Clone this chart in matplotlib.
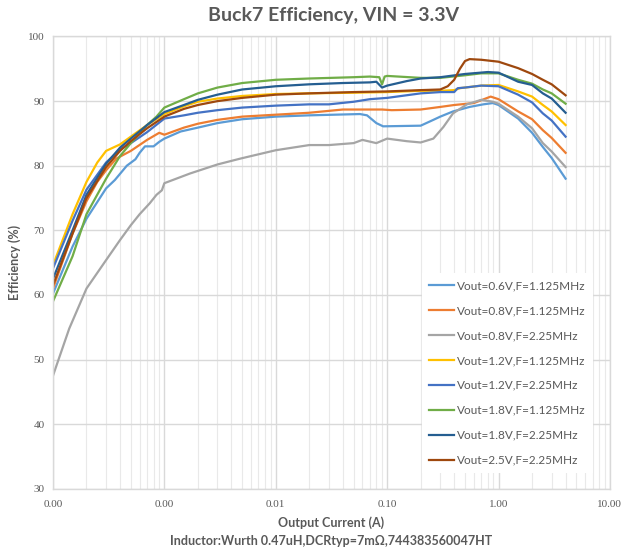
import numpy as np
import matplotlib
matplotlib.use("Agg")
import matplotlib.pyplot as plt
from matplotlib.ticker import FuncFormatter, LogLocator

# Efficiency vs load current, one (current, efficiency) pair of lists per setting
labels = [
    "Vout=0.6V,F=1.125MHz",
    "Vout=0.8V,F=1.125MHz",
    "Vout=0.8V,F=2.25MHz",
    "Vout=1.2V,F=1.125MHz",
    "Vout=1.2V,F=2.25MHz",
    "Vout=1.8V,F=1.125MHz",
    "Vout=1.8V,F=2.25MHz",
    "Vout=2.5V,F=2.25MHz",
]
colors = ["#5B9BD5", "#ED7D31", "#A5A5A5", "#FFC000",
          "#4472C4", "#70AD47", "#255E91", "#9E480E"]

i_06_1125 = [0.0001, 0.00015, 0.0002, 0.0003, 0.00036, 0.00046, 0.00055, 0.0006, 0.00067, 0.0008,
             0.0009, 0.001, 0.0014, 0.002, 0.003, 0.005, 0.01, 0.02, 0.057, 0.066, 0.08, 0.092,
             0.2, 0.26, 0.3, 0.39, 0.55, 0.73, 0.89, 1.0, 1.5, 2.0, 2.5, 3.0, 4.0]
eff_06_1125 = [60.2, 67.5, 71.8, 76.5, 77.8, 80.0, 81.0, 82.0, 83.0, 83.0,
               83.7, 84.2, 85.3, 85.9, 86.6, 87.2, 87.6, 87.8, 88.0, 87.8, 86.6, 86.1,
               86.2, 87.1, 87.6, 88.4, 89.1, 89.5, 89.7, 89.4, 87.3, 85.1, 82.9, 81.2, 78.0]

i_08_1125 = [0.0001, 0.00015, 0.0002, 0.00025, 0.0003, 0.00037, 0.0005, 0.0007, 0.0009, 0.001,
             0.0015, 0.002, 0.003, 0.005, 0.01, 0.02, 0.04, 0.09, 0.11, 0.2, 0.3, 0.4, 0.6,
             0.85, 1.0, 1.5, 2.0, 2.5, 3.0, 4.0]
eff_08_1125 = [61.0, 69.5, 74.5, 77.5, 79.3, 81.1, 82.3, 84.0, 85.1, 84.8,
               85.9, 86.5, 87.1, 87.6, 87.9, 88.2, 88.7, 88.7, 88.6, 88.7, 89.1, 89.4, 89.7,
               90.7, 90.3, 88.4, 87.2, 85.5, 84.3, 82.0]

i_08_225 = [0.0001, 0.00014, 0.0002, 0.0003, 0.0004, 0.0005, 0.0006, 0.00074, 0.00085, 0.00095,
            0.001, 0.0017, 0.003, 0.0048, 0.01, 0.02, 0.03, 0.05, 0.06, 0.08, 0.1, 0.15, 0.2,
            0.26, 0.32, 0.39, 0.52, 0.7, 0.89, 1.0, 1.5, 2.0, 2.5, 3.0, 4.0]
eff_08_225 = [47.5, 54.8, 61.0, 65.4, 68.5, 70.8, 72.5, 74.2, 75.5, 76.2,
              77.3, 78.8, 80.2, 81.1, 82.4, 83.2, 83.2, 83.5, 84.0, 83.5, 84.2, 83.8, 83.6,
              84.2, 86.0, 88.1, 89.5, 90.2, 89.9, 89.6, 87.6, 85.8, 83.5, 82.2, 79.8]

i_12_1125 = [0.0001, 0.00015, 0.0002, 0.00025, 0.0003, 0.0004, 0.0005, 0.0007, 0.001, 0.0015,
             0.002, 0.003, 0.005, 0.01, 0.02, 0.05, 0.1, 0.2, 0.3, 0.4, 0.45, 0.5, 0.7, 1.0,
             1.5, 2.0, 2.5, 3.0, 4.0]
eff_12_1125 = [64.6, 72.5, 77.5, 80.5, 82.3, 83.3, 84.5, 86.3, 88.0, 89.2,
               89.9, 90.4, 90.8, 91.1, 91.2, 91.3, 91.4, 91.6, 91.6, 91.7, 92.0, 92.1, 92.4, 92.5,
               91.5, 90.7, 89.4, 88.4, 86.3]

i_12_225 = [0.0001, 0.00015, 0.0002, 0.0003, 0.0004, 0.0005, 0.0007, 0.001, 0.0015, 0.002,
            0.003, 0.005, 0.01, 0.02, 0.03, 0.05, 0.07, 0.1, 0.2, 0.3, 0.4, 0.43, 0.5, 0.7,
            1.0, 1.5, 2.0, 2.5, 3.0, 4.0]
eff_12_225 = [64.1, 71.5, 76.3, 80.5, 82.5, 83.5, 85.2, 87.3, 87.8, 88.2,
              88.6, 89.0, 89.3, 89.5, 89.5, 89.9, 90.3, 90.5, 91.2, 91.4, 91.4, 92.0, 92.1, 92.4,
              92.3, 91.0, 89.8, 88.1, 87.0, 84.5]

i_18_1125 = [0.0001, 0.00015, 0.0002, 0.0003, 0.0004, 0.0005, 0.0007, 0.00085, 0.001, 0.0015,
             0.002, 0.003, 0.005, 0.01, 0.02, 0.05, 0.07, 0.085, 0.09, 0.095, 0.1, 0.2, 0.3,
             0.5, 0.7, 1.0, 1.5, 2.0, 2.5, 3.0, 4.0]
eff_18_1125 = [59.0, 66.0, 72.5, 78.0, 81.5, 83.5, 86.3, 87.6, 89.0, 90.3,
               91.2, 92.1, 92.8, 93.3, 93.5, 93.7, 93.8, 93.7, 92.6, 93.8, 93.9, 93.6, 93.6,
               94.0, 94.3, 94.3, 93.3, 92.7, 91.8, 91.2, 89.6]

i_18_225 = [0.0001, 0.00015, 0.0002, 0.0003, 0.0004, 0.0005, 0.0007, 0.001, 0.0015, 0.002,
            0.003, 0.005, 0.01, 0.02, 0.04, 0.07, 0.08, 0.09, 0.1, 0.15, 0.2, 0.3, 0.5, 0.8,
            1.0, 1.5, 2.0, 2.5, 3.0, 4.0]
eff_18_225 = [62.5, 70.0, 75.5, 80.3, 82.8, 84.2, 86.3, 88.3, 89.4, 90.2,
              91.0, 91.8, 92.3, 92.6, 92.8, 92.9, 93.0, 92.1, 92.4, 93.1, 93.5, 93.7, 94.2, 94.5,
              94.4, 93.0, 92.5, 91.2, 90.4, 88.2]

i_25_225 = [0.0001, 0.00015, 0.0002, 0.0003, 0.0004, 0.0005, 0.0007, 0.001, 0.0015, 0.002,
            0.003, 0.005, 0.01, 0.02, 0.05, 0.1, 0.2, 0.3, 0.35, 0.4, 0.45, 0.5, 0.55, 0.7,
            1.0, 1.5, 2.0, 2.5, 3.0, 4.0]
eff_25_225 = [61.5, 69.5, 75.0, 79.8, 82.3, 83.8, 85.8, 87.6, 88.8, 89.4,
              90.0, 90.5, 91.0, 91.2, 91.4, 91.5, 91.7, 91.8, 92.3, 93.3, 95.0, 96.2, 96.5, 96.4,
              96.1, 95.1, 94.2, 93.3, 92.6, 90.9]

currents = [i_06_1125, i_08_1125, i_08_225, i_12_1125, i_12_225, i_18_1125, i_18_225, i_25_225]
effs = [eff_06_1125, eff_08_1125, eff_08_225, eff_12_1125, eff_12_225, eff_18_1125, eff_18_225, eff_25_225]

text_gray = "#595959"
grid_gray = "#D9D9D9"

fig = plt.figure(figsize=(6.23, 5.53), dpi=100)
ax = fig.add_axes([0.085, 0.116, 0.894, 0.818])

for x, y, lab, col in zip(currents, effs, labels, colors):
    ax.plot(x, y, color=col, linewidth=1.6, label=lab, solid_joinstyle="round")

ax.set_xscale("log")
ax.set_xlim(0.0001, 10)
ax.set_ylim(30, 100)
ax.set_yticks(np.arange(30, 101, 10))
ax.xaxis.set_major_locator(LogLocator(base=10, numticks=10))
ax.xaxis.set_minor_locator(LogLocator(base=10, subs=np.arange(2, 10), numticks=20))
ax.xaxis.set_major_formatter(FuncFormatter(lambda v, p: f"{v:.2f}"))
ax.xaxis.set_minor_formatter(FuncFormatter(lambda v, p: ""))

ax.grid(True, which="major", color=grid_gray, linewidth=1.0)
ax.grid(True, which="minor", axis="x", color="#E9E9E9", linewidth=0.8)
ax.set_axisbelow(True)
for s in ax.spines.values():
    s.set_color(grid_gray)
    s.set_linewidth(1.0)

ax.tick_params(which="both", length=0)
ax.tick_params(axis="x", pad=8)
ax.tick_params(axis="y", pad=6)
for t in ax.get_xticklabels() + ax.get_yticklabels():
    t.set_fontfamily("Liberation Serif")
    t.set_fontsize(8)
    t.set_color(text_gray)

leg = ax.legend(loc="upper left", bbox_to_anchor=(0.662, 0.477), frameon=True,
                fancybox=False, edgecolor="none", facecolor="white", framealpha=1.0,
                handlelength=2.1, handletextpad=0.3, labelspacing=1.18,
                borderpad=0.6, borderaxespad=0,
                prop={"family": "Lato", "size": 8.5})
for t in leg.get_texts():
    t.set_color(text_gray)

fig.text(0.535, 0.972, "Buck7 Efficiency, VIN = 3.3V", ha="center", va="center",
         fontsize=14, fontweight="bold", color=text_gray, family="Lato")
fig.text(0.024, 0.525, "Efficiency (%)", rotation=90, ha="center", va="center",
         fontsize=9, fontweight="bold", color=text_gray, family="Lato")
fig.text(0.532, 0.054, "Output Current (A)", ha="center", va="center",
         fontsize=9, fontweight="bold", color=text_gray, family="Lato")
fig.text(0.532, 0.022, "Inductor:Wurth 0.47uH,DCRtyp=7m\u03a9,744383560047HT", ha="center",
         va="center", fontsize=9, fontweight="bold", color=text_gray, family="Lato")

fig.savefig("out.png", dpi=100)
